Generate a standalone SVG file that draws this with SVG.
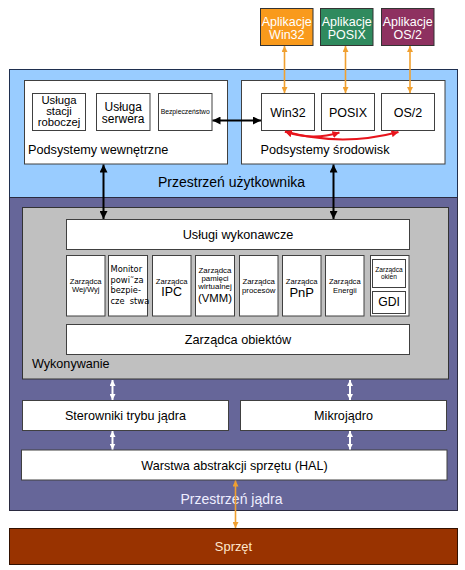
<svg xmlns="http://www.w3.org/2000/svg" width="465" height="570" viewBox="0 0 465 570">
<style>
text{font-family:"Liberation Sans",Arial,sans-serif;fill:#000;text-anchor:middle}
.box{fill:#fff;stroke:#404040;stroke-width:1}
.l{text-anchor:start}
.mono{font-family:"DejaVu Sans","Liberation Sans",sans-serif;text-anchor:start}
.app{stroke:#333;stroke-width:1}
.apptxt{fill:#fff;font-size:12.5px}
.blk{stroke:#000;stroke-width:2;fill:none;marker-start:url(#hb);marker-end:url(#hb)}
.org{stroke:#F0A030;stroke-width:1.6;fill:none;marker-start:url(#ho);marker-end:url(#ho)}
.red{stroke:#E8141C;stroke-width:2;fill:none;marker-start:url(#hr);marker-end:url(#hr)}
.wht{stroke:#fff;stroke-width:2;fill:none;marker-start:url(#hw);marker-end:url(#hw)}
</style>
<defs>
<marker id="hb" viewBox="0 0 8 8" refX="8" refY="4" markerWidth="8" markerHeight="8" markerUnits="userSpaceOnUse" orient="auto-start-reverse"><path d="M0,0 L8,4 L0,8 z" fill="#000"/></marker>
<marker id="ho" viewBox="0 0 8 8" refX="8" refY="4" markerWidth="6" markerHeight="6" markerUnits="userSpaceOnUse" orient="auto-start-reverse"><path d="M0,0 L8,4 L0,8 z" fill="#F0A030"/></marker>
<marker id="hr" viewBox="0 0 8 8" refX="8" refY="4" markerWidth="7" markerHeight="7" markerUnits="userSpaceOnUse" orient="auto-start-reverse"><path d="M0,0 L8,4 L0,8 z" fill="#E8141C"/></marker>
<marker id="hw" viewBox="0 0 8 8" refX="8" refY="4" markerWidth="6" markerHeight="6" markerUnits="userSpaceOnUse" orient="auto-start-reverse"><path d="M0,0 L8,4 L0,8 z" fill="#fff"/></marker>
</defs>
<rect width="465" height="570" fill="#fff"/>

<g id="user-space">
<rect x="9.5" y="69.5" width="448" height="128" fill="#99CCFF" stroke="#1F2F4F" stroke-width="1"/>
<text x="231.5" y="187" font-size="14">Przestrzeń użytkownika</text>
</g>
<g id="kernel-space">
<rect x="9.5" y="197.5" width="448" height="313" fill="#666699" stroke="#2A2A40" stroke-width="1"/>
<text x="231.5" y="504" font-size="14" style="fill:#EEEEFF">Przestrzeń jądra</text>
</g>
<g id="executive">
<rect x="22.5" y="207.5" width="426" height="171.5" fill="#C0C0C0" stroke="#333" stroke-width="1"/>
<text class="l" x="32" y="368" font-size="12.6">Wykonywanie</text>
</g>

<g id="app-win32">
<rect class="app" x="260.5" y="8.5" width="52.5" height="37" fill="#F99A1C"/>
<text class="apptxt" x="286.8" y="26">Aplikacje</text>
<text class="apptxt" x="286.8" y="38.5">Win32</text>
</g>
<g id="app-posix">
<rect class="app" x="320.5" y="8.5" width="52.5" height="37" fill="#2F8A5E"/>
<text class="apptxt" x="346.8" y="26">Aplikacje</text>
<text class="apptxt" x="346.8" y="38.5">POSIX</text>
</g>
<g id="app-os2">
<rect class="app" x="381.5" y="8.5" width="52.5" height="37" fill="#8E3160"/>
<text class="apptxt" x="407.8" y="26">Aplikacje</text>
<text class="apptxt" x="407.8" y="38.5">OS/2</text>
</g>

<g id="internal-subsystems">
<rect class="box" x="24.5" y="80.5" width="203" height="83.5" stroke="#555"/>
<text class="l" x="28" y="154" font-size="12.7">Podsystemy wewnętrzne</text>
</g>
<g id="workstation-service">
<rect class="box" x="32.5" y="93.5" width="53" height="37"/>
<text x="59" y="104" font-size="11.3">Usługa</text>
<text x="59" y="115" font-size="11.3">stacji</text>
<text x="59" y="126" font-size="11.3">roboczej</text>
</g>
<g id="server-service">
<rect class="box" x="96.5" y="93.5" width="53.5" height="37"/>
<text x="123.2" y="110.5" font-size="12">Usługa</text>
<text x="123.2" y="122.8" font-size="12">serwera</text>
</g>
<g id="security">
<rect class="box" x="158.5" y="93.5" width="53.5" height="37"/>
<text x="185.2" y="114" font-size="6.8">Bezpieczeństwo</text>
</g>

<g id="environment-subsystems">
<rect class="box" x="241.5" y="80.5" width="203.5" height="83.5" stroke="#555"/>
<text class="l" x="260.5" y="154" font-size="12.7">Podsystemy środowisk</text>
</g>
<g id="win32">
<rect class="box" x="261.5" y="93.5" width="53" height="37"/>
<text x="288" y="117" font-size="12.5">Win32</text>
</g>
<g id="posix">
<rect class="box" x="321.5" y="93.5" width="53" height="37"/>
<text x="348" y="117" font-size="12.5">POSIX</text>
</g>
<g id="os2">
<rect class="box" x="381.5" y="93.5" width="53" height="37"/>
<text x="408" y="117" font-size="12.5">OS/2</text>
</g>

<g id="executive-services">
<rect class="box" x="66.5" y="219.5" width="343" height="30"/>
<text x="238" y="239" font-size="12.7">Usługi wykonawcze</text>
</g>
<g id="io-manager">
<rect class="box" x="66.5" y="255.5" width="38.5" height="60.5"/>
<text x="85.7" y="283.5" font-size="7.6">Zarządca</text>
<text x="85.7" y="292" font-size="7.6">Wej/Wyj</text>
</g>
<g id="security-monitor">
<rect class="box" x="108.5" y="255.5" width="39" height="60.5"/>
<text class="mono" x="110.5" y="272" font-size="8.3">Monitor</text>
<text class="mono" x="110.5" y="282.7" font-size="8.3">powi˜za</text>
<text class="mono" x="110.5" y="293.2" font-size="8.3">bezpie-</text>
<text class="mono" x="110.5" y="304" font-size="8.3" xml:space="preserve">cze  stwa</text>
</g>
<g id="ipc-manager">
<rect class="box" x="152.5" y="255.5" width="38.5" height="60.5"/>
<text x="171.7" y="284" font-size="7.6">Zarządca</text>
<text x="171.7" y="295.7" font-size="12.4">IPC</text>
</g>
<g id="vmm">
<rect class="box" x="195.5" y="255.5" width="39" height="60.5"/>
<text x="215" y="273" font-size="7.9">Zarządca</text>
<text x="215" y="281" font-size="7.9">pamięci</text>
<text x="215" y="289" font-size="7.9">wirtualnej</text>
<text x="215" y="302" font-size="11.3">(VMM)</text>
</g>
<g id="process-manager">
<rect class="box" x="239.5" y="255.5" width="38.5" height="60.5"/>
<text x="258.7" y="284.3" font-size="7.8">Zarządca</text>
<text x="258.7" y="293" font-size="7.8">procesów</text>
</g>
<g id="pnp-manager">
<rect class="box" x="282.5" y="255.5" width="38.5" height="60.5"/>
<text x="301.7" y="284.3" font-size="7.6">Zarządca</text>
<text x="301.7" y="297" font-size="13">PnP</text>
</g>
<g id="power-manager">
<rect class="box" x="325.5" y="255.5" width="38.5" height="60.5"/>
<text x="344.8" y="284.3" font-size="7.6">Zarządca</text>
<text x="344.8" y="293" font-size="7.6">Energii</text>
</g>
<g id="window-gdi">
<rect class="box" x="370.5" y="255.5" width="38.5" height="60.5"/>
</g>
<g id="window-manager">
<rect class="box" x="372.5" y="259.5" width="33" height="28"/>
<text x="389" y="272.3" font-size="6.6">Zarządca</text>
<text x="389" y="279.3" font-size="6.6">okien</text>
</g>
<g id="gdi">
<rect class="box" x="372.5" y="291.5" width="33" height="22"/>
<text x="389" y="306" font-size="12.2">GDI</text>
</g>
<g id="object-manager">
<rect class="box" x="66.5" y="324.5" width="343" height="30"/>
<text x="238" y="343.5" font-size="12.7">Zarządca obiektów</text>
</g>

<g id="kernel-drivers">
<rect class="box" x="22.5" y="400.5" width="206" height="30"/>
<text x="125.5" y="419.5" font-size="12.6">Sterowniki trybu jądra</text>
</g>
<g id="microkernel">
<rect class="box" x="240.5" y="400.5" width="206" height="30"/>
<text x="343.5" y="419.5" font-size="12.6">Mikrojądro</text>
</g>
<g id="hal">
<rect class="box" x="21.5" y="450" width="425.5" height="30"/>
<text x="234.5" y="469.5" font-size="12.6">Warstwa abstrakcji sprzętu (HAL)</text>
</g>
<g id="hardware">
<rect x="9.5" y="528.5" width="448" height="36" fill="#993300" stroke="#331100" stroke-width="1"/>
<text x="233.5" y="550.5" font-size="12.9" style="fill:#FFE8CC">Sprzęt</text>
</g>

<g id="connectors">
<line class="org" x1="284.5" y1="46" x2="284.5" y2="93"/>
<line class="org" x1="345.5" y1="46" x2="345.5" y2="93"/>
<line class="org" x1="410" y1="46" x2="410" y2="93"/>
<line class="blk" x1="212.5" y1="120.5" x2="261" y2="120.5"/>
<path class="red" d="M285,131.5 Q312,141 339.5,132.5"/>
<path class="red" d="M285,131.5 Q342,147 398.5,132"/>
<line class="blk" x1="103.5" y1="164.5" x2="103.5" y2="219"/>
<line class="blk" x1="333.5" y1="164.5" x2="333.5" y2="219"/>
<line class="wht" x1="112.5" y1="380" x2="112.5" y2="400"/>
<line class="wht" x1="350" y1="380" x2="350" y2="400"/>
<line class="wht" x1="112.5" y1="431" x2="112.5" y2="449.5"/>
<line class="wht" x1="350" y1="431" x2="350" y2="449.5"/>
<line class="org" x1="235.5" y1="480.5" x2="235.5" y2="528"/>
</g>
</svg>
